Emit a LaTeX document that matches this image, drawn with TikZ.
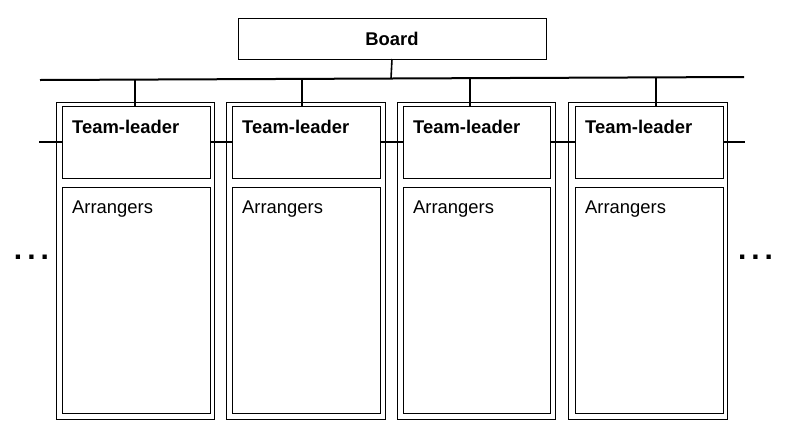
\documentclass[tikz,border=0pt]{standalone}
\usepackage{fontspec}
\setmainfont{Liberation Sans}
\begin{document}
\begin{tikzpicture}[x=1pt,y=-1pt,
  box/.style={draw=black,line width=1.4pt,fill=none,inner sep=0pt,anchor=north west},
  conn/.style={draw=black,line width=1.6pt},
  bus/.style={draw=black,line width=2pt},
  boldtxt/.style={inner sep=0pt,anchor=base west,font=\fontsize{18.4}{21}\selectfont\bfseries},
  normtxt/.style={inner sep=0pt,anchor=base west,font=\fontsize{18.4}{21}\selectfont},
  dotstxt/.style={inner sep=0pt,anchor=base,font=\fontsize{30}{32}\selectfont\bfseries}]
\useasboundingbox (0,0) rectangle (790,429);
% Board
\node[box,minimum width=308pt,minimum height=41pt] (board) at (238,18) {};
\node[inner sep=0pt,anchor=base,font=\fontsize{18.4}{21}\selectfont\bfseries] (boardt) at (392,45) {Board};
% bus line
\coordinate (busL) at (40,80);
\coordinate (busR) at (744,77);
\coordinate (bB) at (391,78.5);
\coordinate (b1) at (135,79.6);
\coordinate (b2) at (302,78.9);
\coordinate (b3) at (470,78.2);
\coordinate (b4) at (656,77.4);
\draw[bus] (busL) -- (busR);
\coordinate (bTop) at (392,59);
\draw[conn] (bTop) -- (bB);
% columns
\foreach \i/\ol/\ow/\il/\iw in {1/56/158/62/148, 2/226/159/232/148, 3/397/158/403/147, 4/568/159/575/148}{
  \node[box,minimum width=\ow pt,minimum height=317pt] (col\i) at (\ol,102) {};
  \node[box,minimum width=\iw pt,minimum height=72pt] (tl\i) at (\il,106) {};
  \node[box,minimum width=\iw pt,minimum height=226pt] (arr\i) at (\il,187) {};
  \node[boldtxt] (tlt\i) at (\il+10,133) {Team-leader};
  \node[normtxt] (arrt\i) at (\il+10,213) {Arrangers};
}
% drops
\draw[conn] (b1) -- (tl1.north -| b1);
\draw[conn] (b2) -- (tl2.north -| b2);
\draw[conn] (b3) -- (tl3.north -| b3);
\draw[conn] (b4) -- (tl4.north -| b4);
% side lines
\coordinate (sL) at (39,142);
\coordinate (sR) at (745,142);
\draw[conn] (sL) -- (tl1.west |- sL);
\draw[conn] (tl1.east |- sL) -- (tl2.west |- sL);
\draw[conn] (tl2.east |- sL) -- (tl3.west |- sL);
\draw[conn] (tl3.east |- sL) -- (tl4.west |- sL);
\draw[conn] (tl4.east |- sL) -- (sR);
% dots
\node[dotstxt] (dl) at (31.5,259) {.\kern5pt.\kern5pt.};
\node[dotstxt] (dr) at (755.5,259) {.\kern5pt.\kern5pt.};
\end{tikzpicture}
\end{document}
